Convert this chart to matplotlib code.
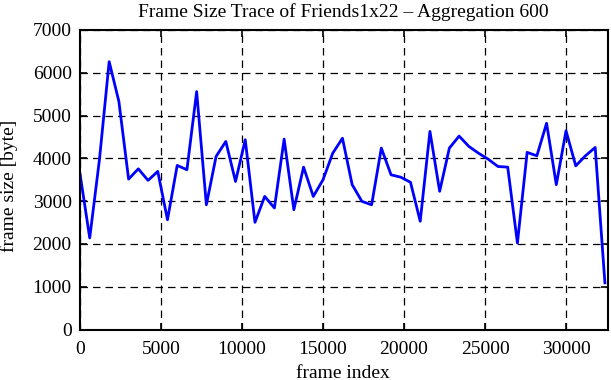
import numpy as np
import matplotlib
matplotlib.use("Agg")
import matplotlib.pyplot as plt

# frame size trace, one value every 600 frames
step = 600
frame_size = [3640, 2140, 3970, 6260, 5330, 3515, 3755, 3485, 3695, 2565,
              3835, 3735, 5560, 2915, 4045, 4395, 3460, 4435, 2505, 3110,
              2840, 4450, 2800, 3795, 3110, 3500, 4120, 4470, 3385, 2995,
              2915, 4240, 3615, 3560, 3440, 2530, 4630, 3230, 4240, 4520,
              4280, 4120, 3980, 3810, 3795, 2020, 4140, 4060, 4820, 3385,
              4645, 3825, 4060, 4255, 1090]
frame_index = np.arange(len(frame_size)) * step

x_ticks = [0, 5000, 10000, 15000, 20000, 25000, 30000]
y_ticks = [0, 1000, 2000, 3000, 4000, 5000, 6000, 7000]

plt.rcParams['font.family'] = ['Liberation Serif', 'DejaVu Serif']
fs = 14

W, H = 611, 380
fig = plt.figure(figsize=(W / 100, H / 100), dpi=100)
ax = fig.add_axes([80 / W, 1 - 329.5 / H, 527.5 / W, 299.5 / H])

ax.plot(frame_index, frame_size, color='#0000ff', lw=2.0)

ax.set_xlim(0, 32560)
ax.set_ylim(0, 7000)
ax.set_xticks(x_ticks)
ax.set_yticks(y_ticks)
ax.grid(True, color='black', ls=(0, (6, 4)), lw=0.9)
ax.tick_params(direction='in', length=5, width=1.2, top=True, right=True,
               colors='black', labelsize=fs)
ax.tick_params(axis='x', pad=8)
ax.tick_params(axis='y', pad=6)
for s in ax.spines.values():
    s.set_linewidth(1.5)

fig.text(343 / W, 1 - 12 / H, 'Frame Size Trace of Friends1x22 \u2013 Aggregation 600',
         fontsize=fs, ha='center', va='center')
fig.text(343 / W, 1 - 373 / H, 'frame index', fontsize=fs, ha='center', va='center')
fig.text(9.5 / W, 1 - 186 / H, 'frame size [byte]', fontsize=fs, ha='center',
         va='center', rotation=90)

fig.savefig('out.png', dpi=100)
